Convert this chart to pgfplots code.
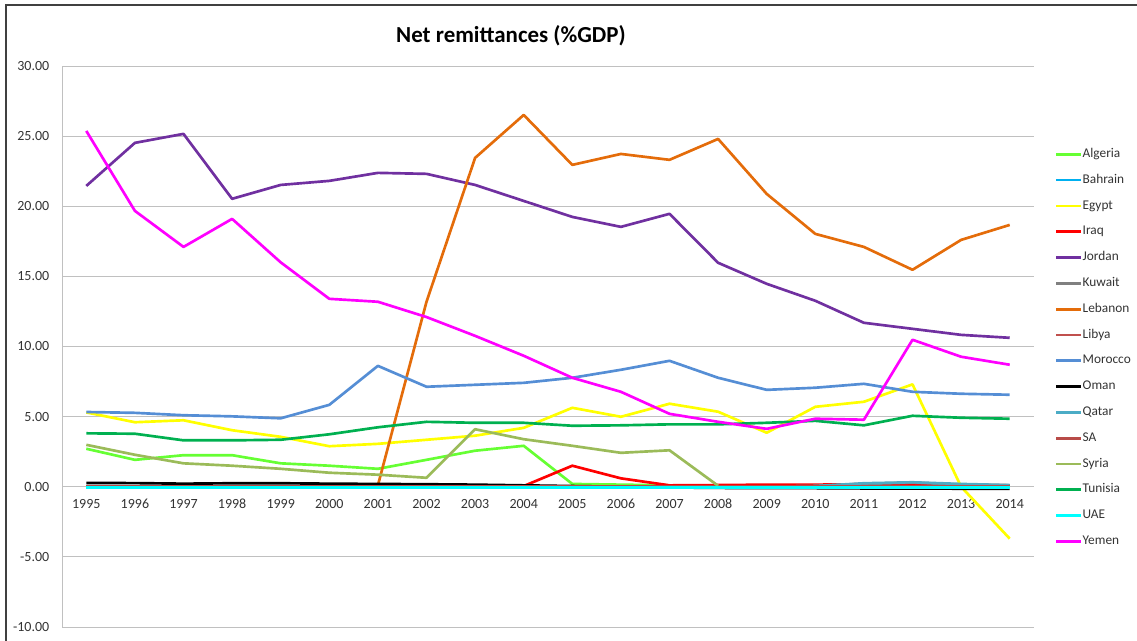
\documentclass[border=0pt]{standalone}
\usepackage{pgfplots}
\pgfplotsset{compat=1.18}
\usepackage{fontspec}
\setmainfont{Carlito}
\definecolor{cAlg}{RGB}{102,255,51}
\definecolor{cBah}{HTML}{00B0F0}
\definecolor{cEgy}{HTML}{FFFF00}
\definecolor{cIrq}{HTML}{FF0000}
\definecolor{cJor}{HTML}{7030A0}
\definecolor{cKuw}{HTML}{808080}
\definecolor{cLeb}{HTML}{E46C0A}
\definecolor{cLib}{HTML}{C0504D}
\definecolor{cMor}{HTML}{558ED5}
\definecolor{cOma}{HTML}{000000}
\definecolor{cQat}{HTML}{4BACC6}
\definecolor{cSA}{HTML}{B84B48}
\definecolor{cSyr}{HTML}{9BBB59}
\definecolor{cTun}{HTML}{00B050}
\definecolor{cUAE}{HTML}{00FFFF}
\definecolor{cYem}{HTML}{FF00FF}
\definecolor{gridc}{HTML}{C0C0C0}
\begin{document}
\begin{tikzpicture}
\useasboundingbox (0,0) rectangle (852.75pt,480pt);
\draw[color=black!75, line width=1.2pt] (4.5pt,-2pt) -- (4.5pt,476.25pt) -- (855pt,476.25pt);
\node[font=\fontsize{17.2}{20}\selectfont\bfseries] at (383.25pt,453pt) {Net remittances (\%GDP)};
\begin{axis}[
  at={(46.5pt,9.75pt)}, anchor=south west,
  scale only axis, width=729pt, height=420.75pt,
  xmin=-0.5, xmax=19.5, ymin=-10, ymax=30,
  xtick={0,...,19},
  xticklabels={1995,1996,1997,1998,1999,2000,2001,2002,2003,2004,2005,2006,2007,2008,2009,2010,2011,2012,2013,2014},
  ytick={-10,-5,0,5,10,15,20,25,30},
  ymajorgrids, grid style={gridc, line width=0.75pt},
  axis x line*=bottom, axis y line*=left,
  x axis line style={draw=none},
  y axis line style={gridc, line width=0.75pt},
  major tick length=0pt,
  tick label style={font=\fontsize{10.5}{12}\selectfont, text=black!80},
  /pgf/number format/assume math mode=true,
  yticklabel={\pgfmathprintnumber[fixed, fixed zerofill, precision=2]{\tick}},
  yticklabel style={xshift=-6pt},
  xticklabel style={anchor=center, yshift=92.25pt},
  clip=false,
  every axis plot/.append style={line width=2pt, no markers, line join=round},
  legend style={at={(1.0216,0.8532)}, anchor=north west, draw=none, fill=none,
    font=\fontsize{10}{11}\selectfont, text=black!80,
    nodes={text height=6.8pt, text depth=2.2pt, inner sep=0pt, anchor=west},
    row sep=10.35pt, inner sep=0pt, outer sep=0pt,
    /tikz/every even column/.append style={column sep=2pt}},
  legend cell align=left,
  legend image code/.code={\draw[#1, line width=2pt] (0pt,0pt) -- (18.75pt,0pt);},
]
% Algeria
\addplot[cAlg] coordinates {(0,2.71)(1,1.92)(2,2.25)(3,2.25)(4,1.67)(5,1.5)(6,1.28)(7,1.92)(8,2.57)(9,2.92)(10,0.2)(11,0.15)(12,0.1)(13,0.08)(14,0.05)(15,0.05)(16,0.05)(17,0.05)(18,0.05)(19,0.05)};
\addlegendentry{Algeria}
% Bahrain
\addplot[cBah] coordinates {(0,0)(1,0)(2,0)(3,0)(4,0)(5,0)(6,0)(7,0)(8,0)(9,0)(10,0)(11,0)(12,0)(13,0)(14,0)(15,0)(16,0)(17,0)(18,0)(19,0)};
\addlegendentry{Bahrain}
% Egypt
\addplot[cEgy] coordinates {(0,5.3)(1,4.6)(2,4.74)(3,4.03)(4,3.56)(5,2.89)(6,3.06)(7,3.35)(8,3.64)(9,4.2)(10,5.63)(11,4.99)(12,5.92)(13,5.35)(14,3.85)(15,5.7)(16,6.06)(17,7.3)(18,0.0)(19,-3.7)};
\addlegendentry{Egypt}
% Iraq
\addplot[cIrq] coordinates {(9,0.05)(10,1.5)(11,0.6)(12,0.1)(13,0.12)(14,0.15)(15,0.15)(16,0.18)(17,0.22)(18,0.12)(19,0.1)};
\addlegendentry{Iraq}
% Jordan
\addplot[cJor] coordinates {(0,21.45)(1,24.52)(2,25.16)(3,20.53)(4,21.52)(5,21.81)(6,22.38)(7,22.31)(8,21.52)(9,20.38)(10,19.24)(11,18.53)(12,19.46)(13,15.97)(14,14.47)(15,13.26)(16,11.69)(17,11.26)(18,10.83)(19,10.62)};
\addlegendentry{Jordan}
% Kuwait
\addplot[cKuw] coordinates {(0,0)(1,0)(2,0)(3,0)(4,0)(5,0)(6,0)(7,0)(8,0)(9,0)(10,0)(11,0)(12,0)(13,0)(14,0)(15,0.05)(16,0.2)(17,0.3)(18,0.15)(19,0.1)};
\addlegendentry{Kuwait}
% Lebanon
\addplot[cLeb] coordinates {(6,0.1)(7,13.19)(8,23.45)(9,26.51)(10,22.95)(11,23.73)(12,23.31)(13,24.8)(14,20.88)(15,18.03)(16,17.1)(17,15.47)(18,17.6)(19,18.67)};
\addlegendentry{Lebanon}
% Libya
\addplot[cLib] coordinates {(0,0)(1,0)(2,0)(3,0)(4,0)(5,0)(6,0)(7,0)(8,0)(9,0)(10,0)(11,0)(12,0)(13,0)(14,0)(15,0)(16,0)(17,0)(18,0)(19,0)};
\addlegendentry{Libya}
% Morocco
\addplot[cMor] coordinates {(0,5.33)(1,5.27)(2,5.1)(3,5.02)(4,4.88)(5,5.84)(6,8.62)(7,7.13)(8,7.27)(9,7.41)(10,7.77)(11,8.34)(12,8.98)(13,7.77)(14,6.91)(15,7.06)(16,7.34)(17,6.77)(18,6.63)(19,6.56)};
\addlegendentry{Morocco}
% Oman
\addplot[cOma] coordinates {(0,0.27)(1,0.26)(2,0.22)(3,0.25)(4,0.25)(5,0.22)(6,0.2)(7,0.18)(8,0.15)(9,0.1)(10,0.05)(11,0.0)(12,-0.05)(13,-0.08)(14,-0.1)(15,-0.1)(16,-0.12)(17,-0.12)(18,-0.14)(19,-0.15)};
\addlegendentry{Oman}
% Qatar
\addplot[cQat] coordinates {(0,0)(1,0)(2,0)(3,0)(4,0)(5,0)(6,0)(7,0)(8,0)(9,0)(10,0)(11,0)(12,0)(13,0)(14,0)(15,0.05)(16,0.25)(17,0.32)(18,0.2)(19,0.12)};
\addlegendentry{Qatar}
% SA
\addplot[cSA] coordinates {(0,0)(1,0)(2,0)(3,0)(4,0)(5,0)(6,0)(7,0)(8,0)(9,0)(10,0)(11,0)(12,0)(13,0)(14,0)(15,0)(16,0)(17,0)(18,0)(19,0)};
\addlegendentry{SA}
% Syria
\addplot[cSyr] coordinates {(0,2.99)(1,2.28)(2,1.67)(3,1.5)(4,1.28)(5,1.0)(6,0.86)(7,0.64)(8,4.1)(9,3.39)(10,2.92)(11,2.42)(12,2.6)(13,0.07)};
\addlegendentry{Syria}
% Tunisia
\addplot[cTun] coordinates {(0,3.81)(1,3.78)(2,3.31)(3,3.31)(4,3.35)(5,3.74)(6,4.24)(7,4.63)(8,4.56)(9,4.56)(10,4.35)(11,4.38)(12,4.45)(13,4.45)(14,4.56)(15,4.7)(16,4.38)(17,5.06)(18,4.92)(19,4.85)};
\addlegendentry{Tunisia}
% UAE
\addplot[cUAE] coordinates {(0,-0.05)(1,-0.05)(2,-0.05)(3,-0.05)(4,-0.05)(5,-0.05)(6,-0.05)(7,-0.05)(8,-0.05)(9,-0.05)(10,-0.05)(11,-0.05)(12,-0.05)(13,-0.05)(14,-0.05)(15,-0.05)(16,-0.05)(17,-0.05)(18,-0.05)(19,-0.05)};
\addlegendentry{UAE}
% Yemen
\addplot[cYem] coordinates {(0,25.37)(1,19.67)(2,17.1)(3,19.1)(4,16.0)(5,13.4)(6,13.19)(7,12.1)(8,10.76)(9,9.34)(10,7.77)(11,6.77)(12,5.2)(13,4.63)(14,4.13)(15,4.85)(16,4.78)(17,10.48)(18,9.27)(19,8.7)};
\addlegendentry{Yemen}
\end{axis}
\end{tikzpicture}
\end{document}
